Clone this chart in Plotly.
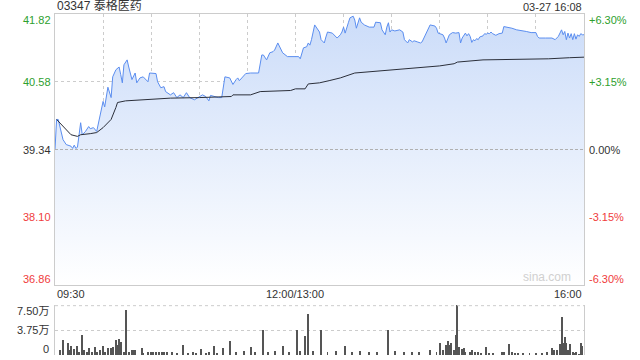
import plotly.graph_objects as go

# ---------------- data ----------------
title_text = "03347 泰格医药"
stamp_text = "03-27 16:08"
prev_close = 39.34
price_ticks = [41.82, 40.58, 39.34, 38.10, 36.86]
pct_ticks = ["+6.30%", "+3.15%", "0.00%", "-3.15%", "-6.30%"]
time_labels = ["09:30", "12:00/13:00", "16:00"]
time_label_pos = [0, 150, 330]          # trading minutes since 09:30
vol_ticks = [7.5, 3.75, 0]
vol_tick_labels = ["7.50万", "3.75万", "0"]

price_min = [0, 1, 2, 4, 5, 7, 10, 11, 12, 13, 14, 16, 17, 19, 21, 22, 24, 26, 28, 30,
             31, 33, 35, 36, 38, 40, 41, 42, 43, 45, 46, 48, 50, 51, 53, 55, 58, 59, 63, 64,
             66, 68, 69, 72, 74, 76, 78, 80, 82, 84, 87, 91, 92, 94, 96, 97, 99, 102, 104, 106,
             109, 111, 113, 114, 115, 117, 119, 122, 125, 127, 129, 130, 132, 134, 136, 137, 139, 140, 142, 145,
             148, 152, 153, 155, 157, 158, 159, 160, 162, 164, 165, 166, 168, 169, 170, 173, 175, 176, 178, 179,
             180, 181, 183, 184, 186, 187, 188, 190, 191, 193, 196, 199, 200, 203, 204, 206, 207, 208, 209, 210,
             212, 215, 217, 218, 220, 221, 223, 224, 226, 228, 229, 231, 233, 234, 237, 238, 239, 240, 242, 243,
             244, 246, 248, 250, 252, 253, 254, 256, 257, 258, 259, 260, 261, 262, 263, 264, 265, 267, 268, 269,
             270, 271, 272, 273, 274, 275, 277, 279, 280, 283, 285, 288, 291, 294, 297, 300, 301, 302, 306, 310,
             312, 314, 316, 317, 318, 319, 320, 321, 322, 323, 324, 325, 326, 327, 328, 329, 330]
price_val = [39.34, 39.89, 39.89, 39.65, 39.52, 39.43, 39.40, 39.36, 39.42, 39.36, 39.38, 39.83, 39.61, 39.67, 39.76, 39.72, 39.74, 39.67, 39.94, 40.22,
             40.12, 40.48, 40.29, 40.67, 40.80, 40.85, 40.71, 40.56, 40.89, 40.98, 40.85, 40.62, 40.74, 40.56, 40.65, 40.67, 40.58, 40.74, 40.73, 40.58,
             40.47, 40.49, 40.40, 40.34, 40.38, 40.29, 40.34, 40.29, 40.38, 40.29, 40.25, 40.31, 40.34, 40.31, 40.23, 40.33, 40.31, 40.29, 40.29, 40.67,
             40.65, 40.53, 40.62, 40.65, 40.60, 40.67, 40.73, 40.74, 40.74, 40.74, 41.07, 41.07, 40.98, 41.11, 41.13, 41.16, 41.29, 41.22, 41.11, 41.04,
             41.04, 41.04, 41.00, 41.20, 41.22, 41.29, 41.25, 41.35, 41.62, 41.53, 41.49, 41.35, 41.29, 41.40, 41.49, 41.47, 41.40, 41.38, 41.44, 41.49,
             41.58, 41.47, 41.66, 41.75, 41.78, 41.71, 41.56, 41.75, 41.67, 41.62, 41.58, 41.58, 41.67, 41.66, 41.53, 41.44, 41.58, 41.66, 41.49, 41.53,
             41.51, 41.53, 41.49, 41.35, 41.29, 41.35, 41.31, 41.33, 41.31, 41.29, 41.31, 41.44, 41.56, 41.62, 41.60, 41.56, 41.47, 41.46, 41.44, 41.38,
             41.29, 41.44, 41.48, 41.47, 41.48, 41.29, 41.38, 41.47, 41.42, 41.46, 41.41, 41.30, 41.35, 41.33, 41.37, 41.35, 41.40, 41.42, 41.46, 41.45,
             41.47, 41.46, 41.49, 41.46, 41.44, 41.43, 41.46, 41.47, 41.59, 41.58, 41.56, 41.53, 41.52, 41.50, 41.48, 41.48, 41.41, 41.38, 41.38, 41.38,
             41.35, 41.41, 41.53, 41.44, 41.50, 41.35, 41.47, 41.38, 41.46, 41.35, 41.46, 41.36, 41.44, 41.41, 41.46, 41.44, 41.44]

avg_min = [1, 10, 14, 16, 22, 26, 30, 35, 38, 39, 44, 53, 72, 90, 103, 110, 111, 122, 128, 147,
           150, 156, 158, 165, 171, 178, 187, 203, 209, 228, 240, 249, 251, 267, 288, 308, 321, 330]
avg_val = [39.89, 39.61, 39.58, 39.61, 39.63, 39.65, 39.74, 39.89, 40.11, 40.20, 40.23, 40.25, 40.28, 40.29, 40.31, 40.31, 40.34, 40.34, 40.40, 40.42,
           40.45, 40.45, 40.54, 40.56, 40.60, 40.65, 40.74, 40.78, 40.80, 40.85, 40.87, 40.91, 40.94, 40.98, 40.99, 41.00, 41.02, 41.03]

vol_min = [3, 5, 8, 9, 10, 12, 14, 15, 17, 18, 20, 21, 23, 25, 26, 28, 30, 31, 33, 35,
           36, 38, 39, 40, 41, 43, 44, 46, 48, 49, 50, 54, 55, 58, 60, 61, 63, 65, 67, 68,
           70, 73, 76, 80, 83, 86, 88, 91, 94, 96, 99, 101, 105, 109, 113, 118, 122, 125, 130, 133,
           137, 142, 146, 151, 153, 156, 158, 161, 166, 170, 175, 181, 185, 190, 196, 201, 208, 212, 218, 223,
           227, 234, 238, 240, 242, 244, 245, 246, 247, 249, 250, 251, 252, 254, 255, 256, 259, 260, 262, 264,
           266, 269, 271, 273, 279, 280, 283, 285, 287, 289, 292, 296, 300, 304, 307, 310, 311, 313, 315, 316,
           317, 318, 319, 320, 321, 323, 324, 325, 327, 328, 329]
vol_val = [0.75, 2.35, 1.85, 0.75, 1.35, 0.9, 1.35, 0.5, 3.0, 0.75, 0.5, 1.0, 0.5, 1.25, 0.4, 0.75, 1.35, 0.5, 1.0, 1.1,
           1.25, 2.25, 1.5, 2.5, 1.9, 0.5, 6.85, 0.5, 0.75, 0.75, 0.75, 1.0, 0.25, 0.5, 0.5, 0.4, 0.5, 0.5, 0.5, 0.5,
           0.4, 0.4, 0.25, 1.5, 0.25, 0.4, 0.25, 0.9, 0.25, 0.4, 1.35, 0.25, 1.0, 2.2, 0.5, 0.6, 1.2, 0.4, 3.85, 0.5,
           0.6, 1.4, 0.5, 3.85, 0.6, 2.85, 6.25, 0.6, 3.75, 0.5, 0.6, 1.4, 0.5, 0.6, 0.4, 0.5, 3.75, 0.6, 0.4, 0.5,
           0.4, 0.8, 0.4, 1.75, 0.75, 1.5, 2.1, 1.5, 1.85, 0.75, 3.1, 7.6, 1.25, 0.9, 1.0, 0.4, 0.5, 0.75, 0.4, 0.5,
           0.25, 1.25, 0.25, 0.25, 0.5, 0.4, 1.6, 0.4, 0.25, 0.25, 0.3, 0.2, 0.3, 0.25, 0.4, 1.0, 0.75, 0.75, 1.6, 5.75,
           1.75, 2.75, 1.85, 0.75, 1.6, 0.5, 0.25, 0.4, 0.15, 1.75, 1.35]

# ---------------- styles ----------------
FONT = "Liberation Sans, Arial, Noto Sans CJK SC, sans-serif"
GREEN = "#2ea02e"
RED = "#f03c3c"
DARK = "#333333"
GRID = "#cccccc"

fig = go.Figure()

fig.add_trace(go.Scatter(
    x=price_min, y=price_val, mode="lines",
    line=dict(color="#5b8ef0", width=1),
    fill="tozeroy",
    fillgradient=dict(type="vertical", start=price_ticks[-1], stop=price_ticks[0],
                      colorscale=[[0, "rgba(255,255,255,1)"], [1, "rgb(203,220,249)"]]),
    xaxis="x", yaxis="y", hoverinfo="skip", showlegend=False))

fig.add_trace(go.Scatter(
    x=avg_min, y=avg_val, mode="lines",
    line=dict(color="#2b2f3a", width=1),
    xaxis="x", yaxis="y", hoverinfo="skip", showlegend=False))

fig.add_trace(go.Bar(
    x=vol_min, y=vol_val, width=0.6, marker=dict(color="#555555", line=dict(width=0)),
    xaxis="x2", yaxis="y2", hoverinfo="skip", showlegend=False))

main_dom = [0.2053, 1.0]
vol_dom = [0.0, 0.1466]

fig.update_layout(
    width=640, height=360,
    margin=dict(l=55, r=56, t=14, b=5),
    paper_bgcolor="white", plot_bgcolor="rgba(0,0,0,0)",
    font=dict(family=FONT, size=11, color=DARK),
    bargap=0,
    xaxis=dict(domain=[0, 1], range=[0, 330], anchor="y",
               tickvals=list(range(30, 330, 30)), showticklabels=False, ticks="",
               showgrid=True, gridcolor=GRID, griddash="dot", gridwidth=1,
               showline=True, linecolor=GRID, linewidth=1, mirror=True, zeroline=False),
    yaxis=dict(domain=main_dom, range=[price_ticks[-1], price_ticks[0]], anchor="x",
               tickvals=[price_ticks[1], price_ticks[3]], showticklabels=False, ticks="",
               showgrid=True, gridcolor=GRID, griddash="dot", gridwidth=1,
               showline=True, linecolor=GRID, linewidth=1, mirror=True, zeroline=False),
    xaxis2=dict(domain=[0, 1], range=[0, 330], anchor="y2",
                showticklabels=False, ticks="", showgrid=False, zeroline=False,
                showline=False),
    yaxis2=dict(domain=vol_dom, range=[0, 7.6], anchor="x2",
                tickvals=[3.75], showticklabels=False, ticks="",
                showgrid=True, gridcolor=GRID, griddash="dot", gridwidth=1,
                showline=True, linecolor=GRID, linewidth=1, mirror=True, zeroline=False),
)

shapes = [
    dict(type="line", xref="x", yref="y", x0=0, x1=330, y0=prev_close, y1=prev_close,
         line=dict(color="#b0b0b0", width=1, dash="3px,2px"), layer="above"),
    dict(type="line", xref="x2", yref="y2", x0=0, x1=330, y0=7.5, y1=7.5,
         line=dict(color=GRID, width=1, dash="dot")),
]
fig.update_layout(shapes=shapes)

ann = []
# title and timestamp
ann.append(dict(text=title_text, xref="paper", yref="paper", x=0, y=1, xanchor="left", yanchor="bottom",
                yshift=-1, showarrow=False, font=dict(size=12, color=DARK)))
ann.append(dict(text=stamp_text, xref="paper", yref="paper", x=1, y=1, xanchor="right", yanchor="bottom",
                yshift=-1, showarrow=False, font=dict(size=11, color=DARK)))
# price axis labels
for i, (p, pc) in enumerate(zip(price_ticks, pct_ticks)):
    if p > prev_close:
        col = GREEN
    elif p < prev_close:
        col = RED
    else:
        col = DARK
    ys = -6 if i == 0 else (6 if i == len(price_ticks) - 1 else 0)
    ann.append(dict(text=f"{p:.2f}", xref="paper", yref="y", x=0, y=p, xanchor="right", yanchor="middle",
                    xshift=-2, yshift=ys, showarrow=False, font=dict(size=11, color=col)))
    ann.append(dict(text=pc, xref="paper", yref="y", x=1, y=p, xanchor="left", yanchor="middle",
                    xshift=3, yshift=ys, showarrow=False, font=dict(size=11, color=col)))
# time labels
anchors = ["left", "center", "right"]
for t, pos, a in zip(time_labels, time_label_pos, anchors):
    ann.append(dict(text=t, xref="x", yref="paper", x=pos, y=0.2053, xanchor=a, yanchor="top",
                    yshift=-1, showarrow=False, font=dict(size=11, color=DARK)))
# volume labels
vol_shift = {7.5: -5, 3.75: 0, 0: 6}
for v, lab in zip(vol_ticks, vol_tick_labels):
    ann.append(dict(text=lab, xref="paper", yref="y2", x=0, y=v, xanchor="right", yanchor="middle",
                    xshift=-4, yshift=vol_shift[v], showarrow=False, font=dict(size=11, color=DARK)))
# watermark
ann.append(dict(text="sina.com", xref="paper", yref="y", x=1, y=price_ticks[-1], xanchor="right",
                yanchor="bottom", xshift=-11, yshift=-1, showarrow=False, font=dict(size=12, color="#d0d0d0")))
fig.update_layout(annotations=ann)

fig.write_html("out.html")
